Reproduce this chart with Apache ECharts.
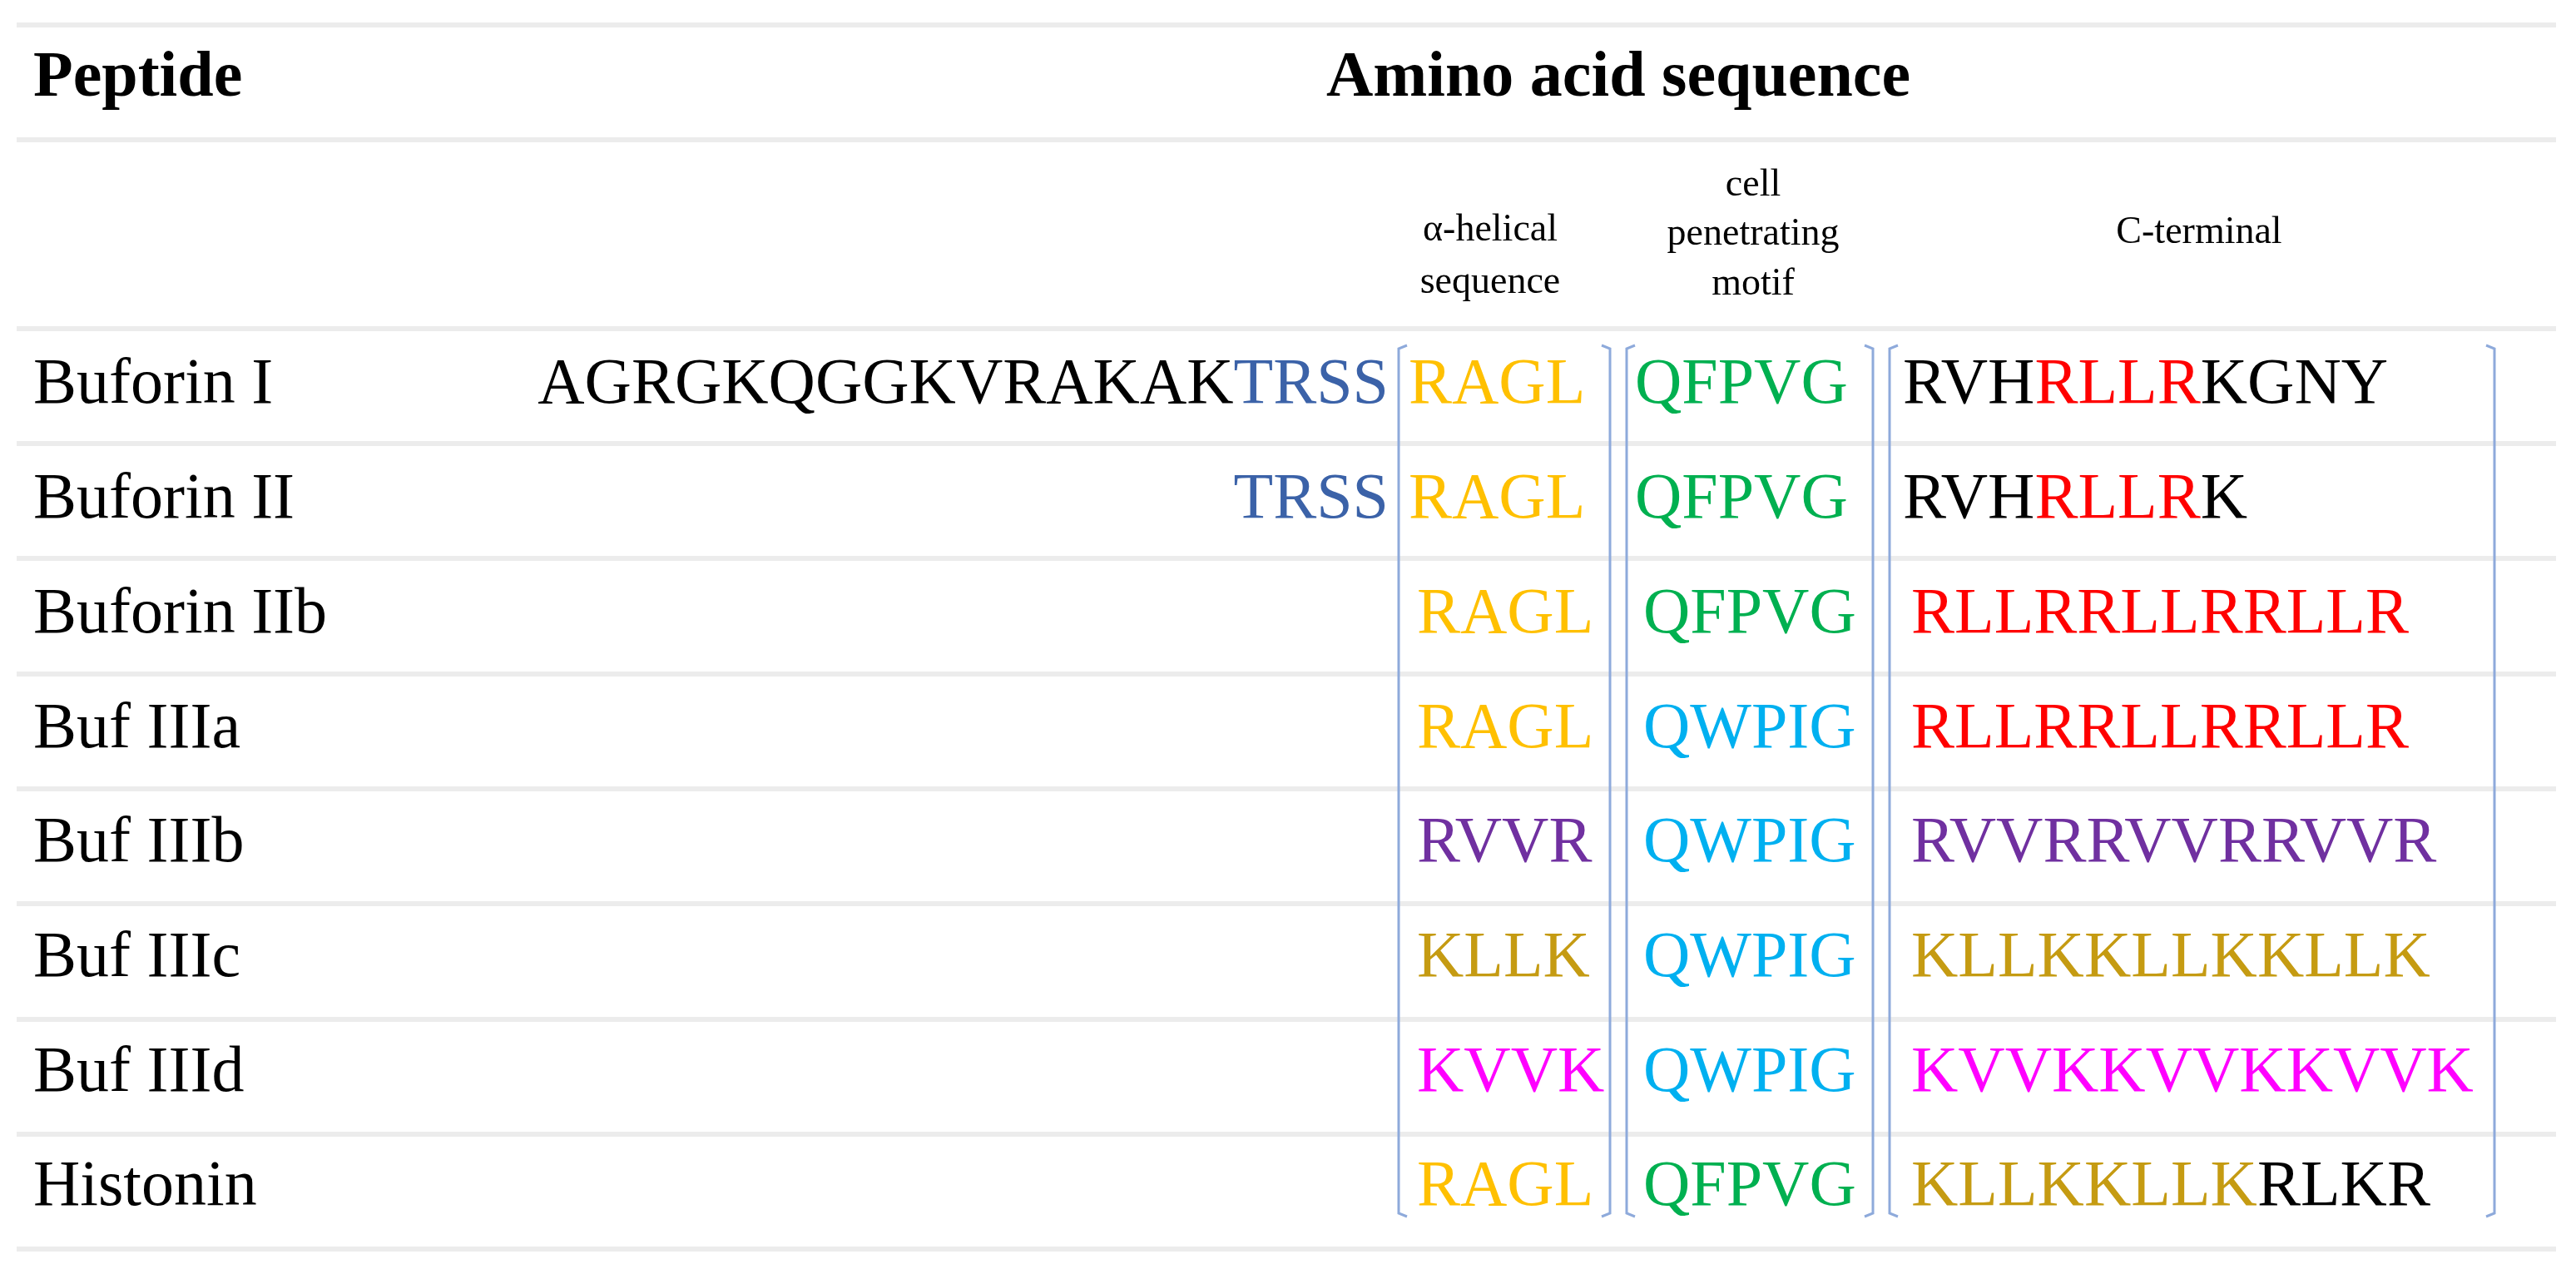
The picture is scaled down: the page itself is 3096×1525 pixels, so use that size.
<!DOCTYPE html>
<html><head><meta charset="utf-8">
<script src="https://cdn.jsdelivr.net/npm/echarts@6/dist/echarts.min.js"></script>
<style>html,body{margin:0;padding:0;background:#fff}#c{width:3096px;height:1525px}</style>
</head><body><div id="c"></div>
<script>
// ---- data ----
const peptides = ['Buforin I','Buforin II','Buforin IIb','Buf IIIa','Buf IIIb','Buf IIIc','Buf IIId','Histonin'];
// segments: [text, colourKey]
const prefixSeq = [
  [['AGRGKQGGKVRAKAK','k'],['TRSS','b']],
  [['TRSS','b']],
  [],[],[],[],[],[]
];
const helixSeq = [
  [['RAGL','y']],[['RAGL','y']],[['RAGL','y']],[['RAGL','y']],
  [['RVVR','p']],[['KLLK','g']],[['KVVK','m']],[['RAGL','y']]
];
const motifSeq = [
  [['QFPVG','gr']],[['QFPVG','gr']],[['QFPVG','gr']],[['QWPIG','c']],
  [['QWPIG','c']],[['QWPIG','c']],[['QWPIG','c']],[['QFPVG','gr']]
];
const ctermSeq = [
  [['RVH','k'],['RLLR','r'],['KGNY','k']],
  [['RVH','k'],['RLLR','r'],['K','k']],
  [['RLLRRLLRRLLR','r']],
  [['RLLRRLLRRLLR','r']],
  [['RVVRRVVRRVVR','p']],
  [['KLLKKLLKKLLK','g']],
  [['KVVKKVVKKVVK','m']],
  [['KLLKKLLK','g'],['RLKR','k']]
];
const headers = ['Peptide','Amino acid sequence'];
const subHeaders = [['α-helical','sequence'],['cell','penetrating','motif'],['C-terminal']];

// ---- styles ----
const COL = {k:'#000000',b:'#3b62a8',y:'#ffc000',gr:'#00b050',c:'#00b0f0',r:'#ff0000',p:'#7030a0',g:'#c59b12',m:'#ff00ff'};
const FONT = '"Liberation Serif","Times New Roman",serif';
const rich = {};
Object.keys(COL).forEach(k=>rich[k]={fill:COL[k],color:COL[k],fontSize:78,fontFamily:FONT});
function rt(segs){return segs.map(s=>'{'+s[1]+'|'+s[0]+'}').join('');}

const rowY0 = 464, rowH = 137.7;
const hLines = [30,168,395,533,671,810,948,1086,1225,1363,1501];
const brackets = [[1681,1935],[1955,2251],[2271,2998]];

const items = [];
peptides.forEach((p,i)=>{
  const y = rowY0 + i*rowH;
  const off = i<2?0:10;
  items.push({kind:'t',x:40,y,text:p,align:'left'});
  if(prefixSeq[i].length) items.push({kind:'r',x:1669,y,text:rt(prefixSeq[i]),align:'right'});
  items.push({kind:'r',x:1693+off,y,text:rt(helixSeq[i]),align:'left'});
  items.push({kind:'r',x:1965+off,y,text:rt(motifSeq[i]),align:'left'});
  items.push({kind:'r',x:2287+off,y,text:rt(ctermSeq[i]),align:'left'});
});
items.push({kind:'h',x:40,y:95,text:headers[0],align:'left'});
items.push({kind:'h',x:1945,y:95,text:headers[1],align:'center'});
const subX=[1791,2107,2643], subY=[[277,340],[223,282,342],[280]];
subHeaders.forEach((s,j)=>s.forEach((t,k)=>items.push({kind:'s',x:subX[j],y:subY[j][k],text:t,align:'center'})));
hLines.forEach(y=>items.push({kind:'line',x:20,y,x2:3072}));
brackets.forEach(b=>items.push({kind:'br',x:b[0],x2:b[1],y:415,y2:1462}));

const chart = echarts.init(document.getElementById('c'));
chart.setOption({
  animation:false,
  grid:{left:0,right:0,top:0,bottom:0},
  xAxis:{type:'value',min:0,max:3096,show:false},
  yAxis:{type:'value',min:0,max:1525,inverse:true,show:false},
  series:[{
    type:'custom',
    data:items.map((it,i)=>[it.x,it.y,i]),
    renderItem:function(params,api){
      const it = items[api.value(2)];
      const p = api.coord([it.x,it.y]);
      if(it.kind==='line'){
        const p2 = api.coord([it.x2,it.y]);
        return {type:'line',shape:{x1:p[0],y1:p[1],x2:p2[0],y2:p[1]},style:{stroke:'#ececec',lineWidth:6}};
      }
      if(it.kind==='br'){
        const a = api.coord([it.x,it.y]), b = api.coord([it.x2,it.y2]);
        const h=10;
        return {type:'group',children:[
          {type:'polyline',shape:{points:[[a[0]+h,a[1]],[a[0],a[1]+4],[a[0],b[1]-4],[a[0]+h,b[1]]]},style:{stroke:'#8eaadb',lineWidth:3,fill:null}},
          {type:'polyline',shape:{points:[[b[0]-h,a[1]],[b[0],a[1]+4],[b[0],b[1]-4],[b[0]-h,b[1]]]},style:{stroke:'#8eaadb',lineWidth:3,fill:null}}
        ]};
      }
      const style = {x:p[0],y:p[1],text:it.text,align:it.align,verticalAlign:'middle',fontFamily:FONT};
      if(it.kind==='r'){style.rich=rich;style.fontSize=78;}
      else if(it.kind==='t'){style.fontSize=78;style.fill='#000';}
      else if(it.kind==='h'){style.fontSize=78;style.fontWeight='bold';style.fill='#000';}
      else {style.fontSize=46;style.fill='#000';}
      return {type:'text',style};
    }
  }]
});
</script></body></html>
